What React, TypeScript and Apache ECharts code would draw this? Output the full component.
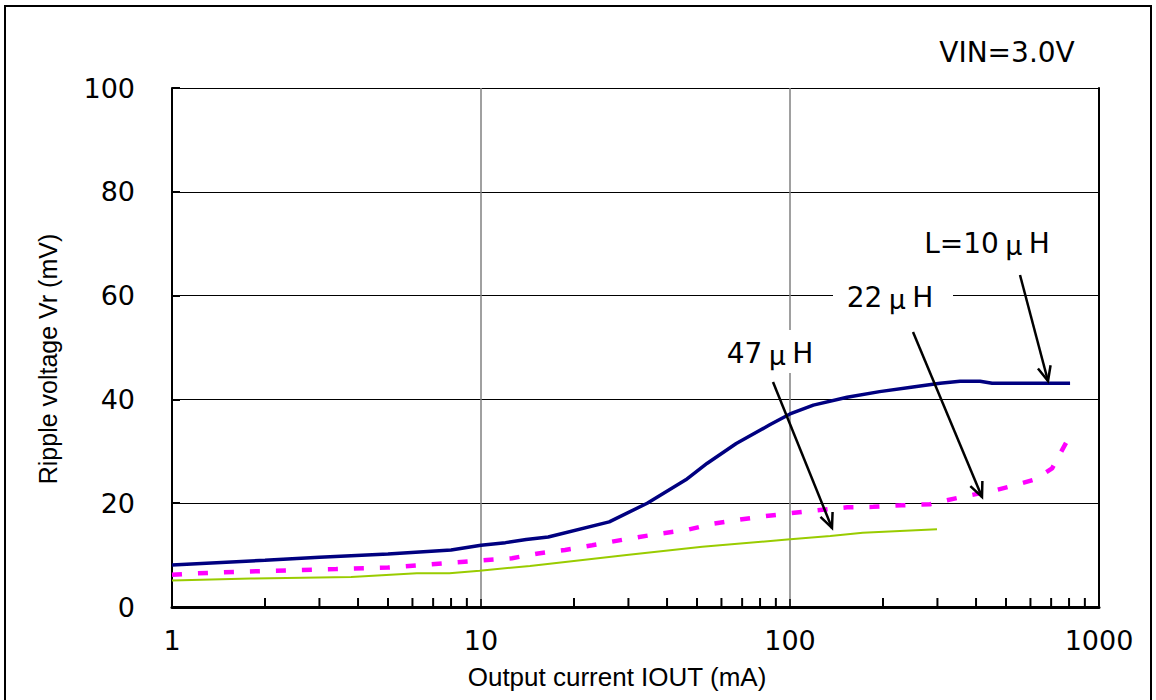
import React, { useEffect, useRef } from "react";
import * as echarts from "echarts";

// Output current IOUT (mA) / ripple voltage Vr (mV)
const l10X = [1, 2, 3, 5, 8, 10, 12, 14, 16.5, 26, 34.5, 46, 54, 67, 86, 100, 119, 153, 195, 250, 306, 355, 412, 451, 806];
const l10Y = [8.1, 9.0, 9.6, 10.2, 11.0, 11.9, 12.4, 13.0, 13.5, 16.4, 20.0, 24.5, 27.7, 31.5, 35.1, 37.2, 38.9, 40.4, 41.5, 42.4, 43.1, 43.5, 43.5, 43.1, 43.1];

const l22X = [1, 1.2, 1.9, 3.4, 5, 7.5, 9.7, 12.6, 15.3, 18.7, 22.9, 29, 37.5, 46, 56, 68, 83, 98, 125, 153, 186, 230, 284, 306, 374, 454, 515, 621, 705, 790];
const l22Y = [6.2, 6.5, 6.9, 7.3, 7.6, 8.4, 8.9, 9.4, 10.3, 11.0, 11.9, 13.0, 14.1, 14.8, 16.0, 16.8, 17.5, 18.0, 18.7, 19.2, 19.3, 19.6, 19.8, 20.3, 21.4, 22.4, 23.2, 24.6, 26.7, 32.1];

const l47X = [1, 1.8, 3.8, 6.2, 7.9, 9.9, 14.4, 29.6, 52, 98, 135, 172, 299];
const l47Y = [5.1, 5.5, 5.8, 6.5, 6.5, 7.0, 7.9, 10.0, 11.6, 13.0, 13.7, 14.3, 15.0];

const yTicks = [0, 20, 40, 60, 80, 100];
const xMinorTicks = [2, 3, 4, 5, 6, 7, 8, 9, 20, 30, 40, 50, 60, 70, 80, 90, 200, 300, 400, 500, 600, 700, 800, 900];

const xTitle = "Output current IOUT (mA)";
const yTitle = "Ripple voltage Vr (mV)";
const condition = "VIN=3.0V";

const zip = (xs: number[], ys: number[]) => xs.map((x, i) => [x, ys[i]]);

function arrow(x1: number, y1: number, x2: number, y2: number) {
  const ang = Math.atan2(y2 - y1, x2 - x1);
  const len = 16;
  const spread = 0.42;
  const a1 = ang + Math.PI - spread;
  const a2 = ang + Math.PI + spread;
  const style = { stroke: "#000", lineWidth: 2.5, fill: null as any };
  return [
    { type: "line", z: 20, shape: { x1, y1, x2, y2 }, style },
    {
      type: "polyline",
      z: 20,
      shape: {
        points: [
          [x2 + len * Math.cos(a1), y2 + len * Math.sin(a1)],
          [x2, y2],
          [x2 + len * Math.cos(a2), y2 + len * Math.sin(a2)],
        ],
      },
      style,
    },
  ];
}

const rich = {
  d: { fontFamily: "DejaVu Sans", fontSize: 28, fill: "#000" },
  m: { fontFamily: "Noto Sans CJK JP", fontSize: 28, fill: "#000", width: 30, align: "center" },
};

export default function App() {
  const ref = useRef<HTMLDivElement>(null);
  useEffect(() => {
    const chart = echarts.init(ref.current!, null, { renderer: "svg" });
    const option: any = {
      animation: false,
      backgroundColor: "#fff",
      grid: { left: 172, right: 57, top: 88, bottom: 93, containLabel: false },
      xAxis: {
        type: "log",
        logBase: 10,
        min: 1,
        max: 1000,
        axisLine: { show: true, lineStyle: { color: "#000", width: 3 } },
        axisTick: { show: true, inside: true, length: 8, lineStyle: { color: "#000", width: 1.5 } },
        axisLabel: {
          color: "#000",
          fontFamily: "DejaVu Sans",
          fontSize: 27,
          margin: 20,
          showMinLabel: true,
          showMaxLabel: true,
          formatter: (v: number) => String(Math.round(v)),
        },
        splitLine: { show: true, lineStyle: { color: "#808080", width: 1.5 } },
      },
      yAxis: [
        {
          type: "value",
          min: yTicks[0],
          max: yTicks[yTicks.length - 1],
          interval: 20,
          axisLine: { show: true, lineStyle: { color: "#000", width: 2 } },
          axisTick: { show: true, inside: true, length: 8, lineStyle: { color: "#000", width: 2 } },
          axisLabel: { color: "#000", fontFamily: "DejaVu Sans", fontSize: 27, margin: 37 },
          splitLine: { show: true, lineStyle: { color: "#000", width: 1 } },
        },
        {
          type: "value",
          position: "right",
          min: yTicks[0],
          max: yTicks[yTicks.length - 1],
          interval: 20,
          axisLine: { show: true, lineStyle: { color: "#000", width: 2 } },
          axisTick: { show: false },
          axisLabel: { show: false },
          splitLine: { show: false },
        },
      ],
      series: [
        {
          name: "47μH",
          type: "line",
          data: zip(l47X, l47Y),
          symbol: "none",
          lineStyle: { color: "#99CC00", width: 2 },
          z: 3,
        },
        {
          name: "22μH",
          type: "line",
          data: zip(l22X, l22Y),
          symbol: "none",
          lineStyle: { color: "#FF00FF", width: 4.5, type: [10, 16], cap: "butt" },
          z: 4,
        },
        {
          name: "L=10μH",
          type: "line",
          data: zip(l10X, l10Y),
          symbol: "none",
          lineStyle: { color: "#000080", width: 3.5 },
          z: 5,
        },
        {
          name: "minorTicks",
          type: "custom",
          data: xMinorTicks.map((v) => [v, 0]),
          encode: { x: 0, y: 1 },
          silent: true,
          clip: false,
          z: 10,
          renderItem: (params: any, api: any) => {
            const p = api.coord([api.value(0), api.value(1)]);
            return {
              type: "rect",
              shape: { x: p[0] - 1, y: p[1] - 9, width: 2, height: 9 },
              style: { fill: "#000" },
            };
          },
        },
      ],
      graphic: [
        {
          type: "rect",
          z: 30,
          shape: { x: 5, y: 6, width: 1146, height: 710 },
          style: { fill: null, stroke: "#000", lineWidth: 2 },
          silent: true,
        },
        { type: "rect", z: 1, shape: { x: 715, y: 330, width: 112, height: 43 }, style: { fill: "#fff" } },
        { type: "rect", z: 1, shape: { x: 833, y: 282, width: 120, height: 30 }, style: { fill: "#fff" } },
        {
          type: "text",
          z: 20,
          x: 1007,
          y: 52,
          style: { text: condition, fontFamily: "DejaVu Sans", fontSize: 28, fill: "#000", align: "center", verticalAlign: "middle" },
        },
        {
          type: "text",
          z: 20,
          x: 987,
          y: 243,
          style: { text: "{d|L=10}{m|μ}{d|H}", rich, align: "center", verticalAlign: "middle" },
        },
        {
          type: "text",
          z: 20,
          x: 890,
          y: 297,
          style: { text: "{d|22}{m|μ}{d|H}", rich, align: "center", verticalAlign: "middle" },
        },
        {
          type: "text",
          z: 20,
          x: 770,
          y: 353,
          style: { text: "{d|47}{m|μ}{d|H}", rich, align: "center", verticalAlign: "middle" },
        },
        ...arrow(1020, 275, 1048, 381),
        ...arrow(913, 332, 982, 497),
        ...arrow(773, 382, 832, 528),
        {
          type: "text",
          z: 20,
          x: 617,
          y: 677,
          style: { text: xTitle, fontFamily: "Liberation Sans", fontSize: 26, fill: "#000", align: "center", verticalAlign: "middle" },
        },
        {
          type: "text",
          z: 20,
          x: 48,
          y: 359,
          rotation: Math.PI / 2,
          style: { text: yTitle, fontFamily: "Liberation Sans", fontSize: 25, fill: "#000", align: "center", verticalAlign: "middle" },
        },
      ],
    };
    chart.setOption(option);
    return () => chart.dispose();
  }, []);
  return (
    <div
      ref={ref}
      style={{ position: "absolute", left: 0, top: 0, width: 1156, height: 700 }}
    />
  );
}
